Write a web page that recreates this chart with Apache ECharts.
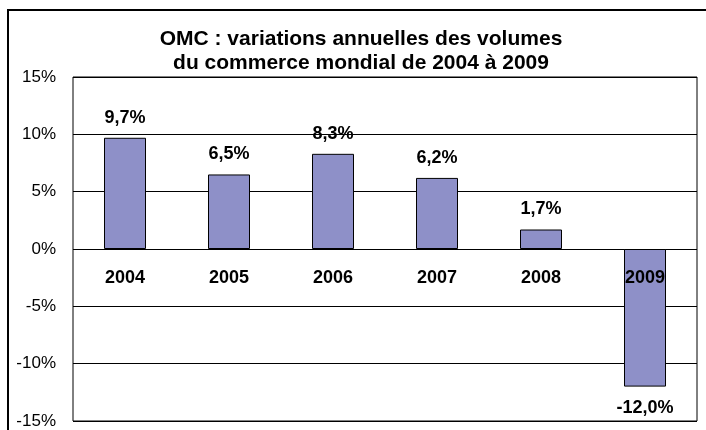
<!DOCTYPE html>
<html>
<head>
<meta charset="utf-8">
<script src="https://cdn.jsdelivr.net/npm/echarts@6/dist/echarts.min.js"></script>
<style>
html, body { margin: 0; padding: 0; background: #fff; }
#chart { width: 706px; height: 430px; }
</style>
</head>
<body>
<div id="chart"></div>
<script>
// données
var annees = ['2004', '2005', '2006', '2007', '2008', '2009'];
var variations = [9.7, 6.5, 8.3, 6.2, 1.7, -12.0];

var chart = echarts.init(document.getElementById('chart'));

var option = {
    backgroundColor: '#fff',
    textStyle: { fontFamily: '"Liberation Sans", Arial, sans-serif' },
    title: {
        text: 'OMC : variations annuelles des volumes\ndu commerce mondial de 2004 à 2009',
        left: 356,
        top: 22,
        textAlign: 'center',
        textStyle: {
            fontSize: 21,
            fontWeight: 'bold',
            color: '#000',
            lineHeight: 24
        }
    },
    graphic: [{
        type: 'rect',
        shape: { x: 8, y: 10, width: 720, height: 440 },
        style: { fill: null, stroke: '#000', lineWidth: 2 },
        silent: true
    }],
    grid: {
        left: 73,
        right: 9,
        top: 77,
        bottom: 9,
        outerBoundsMode: 'none',
        containLabel: false,
        show: true,
        borderColor: '#000',
        borderWidth: 1
    },
    xAxis: {
        type: 'category',
        data: annees,
        z: 5,
        axisLine: { show: false, onZero: false },
        axisTick: { show: false },
        // libellés des années juste sous la ligne du zéro
        axisLabel: {
            inside: true,
            margin: 134,
            fontSize: 18,
            fontWeight: 'bold',
            color: '#000'
        },
        splitLine: { show: false }
    },
    yAxis: {
        type: 'value',
        min: -15,
        max: 15,
        interval: 5,
        axisLine: { show: false },
        axisTick: { show: false },
        axisLabel: {
            margin: 17,
            fontSize: 17,
            color: '#000',
            formatter: '{value}%'
        },
        splitLine: { lineStyle: { color: '#000', width: 1 } }
    },
    series: [{
        type: 'bar',
        barWidth: 42,
        z: 2,
        itemStyle: {
            color: '#8E90C8',
            borderColor: '#000',
            borderWidth: 1
        },
        label: {
            show: true,
            position: 'top',
            distance: 11,
            fontSize: 18,
            fontWeight: 'bold',
            color: '#000',
            formatter: function (p) {
                return p.value.toFixed(1).replace('.', ',') + '%';
            }
        },
        // étiquette en dessous pour les valeurs négatives
        data: variations.map(function (v) {
            if (v < 0) {
                return { value: v, label: { position: 'bottom', distance: 12 } };
            }
            return v;
        })
    }]
};

chart.setOption(option);
</script>
</body>
</html>
